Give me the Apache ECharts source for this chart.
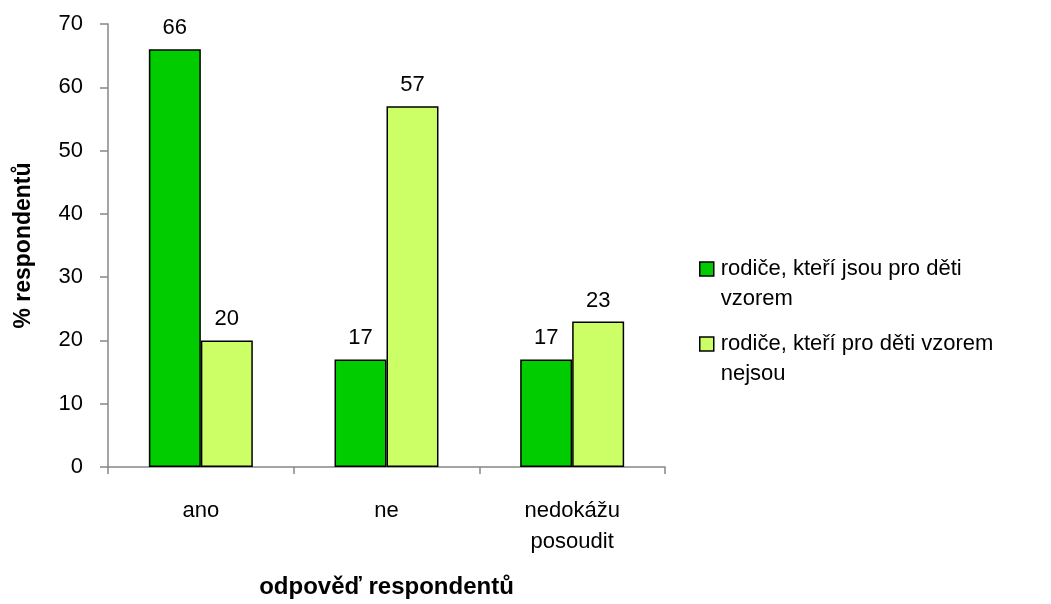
<!DOCTYPE html>
<html>
<head>
<meta charset="utf-8">
<script src="https://cdn.jsdelivr.net/npm/echarts@6/dist/echarts.min.js"></script>
<style>
html, body { margin: 0; padding: 0; background: #fff; }
#chart { width: 1051px; height: 604px; }
</style>
</head>
<body>
<div id="chart"></div>
<script>
// odpovědi a podíly respondentů
var categories = ['ano', 'ne', 'nedokážu\nposoudit'];
var seriesNames = ['rodiče, kteří jsou pro děti\nvzorem', 'rodiče, kteří pro děti vzorem\nnejsou'];
var vzorem = [66, 17, 17];
var nejsouVzorem = [20, 57, 23];
var yTicks = { min: 0, max: 70, interval: 10 };

var fontFam = '"Liberation Sans", Arial, sans-serif';
var axisGray = '#868686';

var myChart = echarts.init(document.getElementById('chart'));

function barSeries(name, data, color) {
	return {
		name : name,
		type : 'bar',
		data : data,
		barGap : '0%',
		barCategoryGap : '44%',
		itemStyle : {
			color : color,
			borderColor : '#000',
			borderWidth : 1.5
		},
		label : {
			show : true,
			position : 'top',
			distance : 10,
			color : '#000',
			fontSize : 22,
			fontFamily : fontFam
		}
	};
}

var option = {
	animation : false,
	backgroundColor : '#fff',
	grid : {
		left : 108,
		right : 386,
		top : 24,
		bottom : 135
	},
	legend : {
		orient : 'vertical',
		left : 694,
		top : 219,
		icon : 'rect',
		itemWidth : 14,
		itemHeight : 14,
		itemGap : -15,
		data : seriesNames,
		// prázdný řádek navrch, aby první řádek textu seděl u značky
		formatter : function(name) {
			return ' \n' + name;
		},
		textStyle : {
			fontSize : 22,
			fontFamily : fontFam,
			color : '#000',
			lineHeight : 30,
			padding : [0, 0, 0, 2]
		},
		itemStyle : {
			borderColor : '#000',
			borderWidth : 1.5
		}
	},
	xAxis : {
		type : 'category',
		data : categories,
		name : 'odpověď respondentů',
		nameLocation : 'middle',
		nameGap : 108,
		nameTextStyle : {
			fontSize : 24,
			fontWeight : 'bold',
			fontFamily : fontFam,
			color : '#000'
		},
		axisLine : { lineStyle : { color : axisGray, width : 1.5 } },
		axisTick : { show : true, length : 7, lineStyle : { color : axisGray, width : 1.5 } },
		axisLabel : {
			margin : 28,
			fontSize : 22,
			lineHeight : 31,
			fontFamily : fontFam,
			color : '#000'
		}
	},
	yAxis : {
		type : 'value',
		min : yTicks.min,
		max : yTicks.max,
		interval : yTicks.interval,
		name : '% respondentů',
		nameLocation : 'middle',
		nameGap : 73,
		nameTextStyle : {
			fontSize : 23,
			fontWeight : 'bold',
			fontFamily : fontFam,
			color : '#000'
		},
		splitLine : { show : false },
		axisLine : { show : true, lineStyle : { color : axisGray, width : 1.5 } },
		axisTick : { show : true, length : 8, lineStyle : { color : axisGray, width : 1.5 } },
		axisLabel : {
			margin : 25,
			fontSize : 22,
			fontFamily : fontFam,
			color : '#000'
		}
	},
	series : [
		barSeries(seriesNames[0], vzorem, '#00CC00'),
		barSeries(seriesNames[1], nejsouVzorem, '#CCFF66')
	]
};

myChart.setOption(option);
</script>
</body>
</html>
